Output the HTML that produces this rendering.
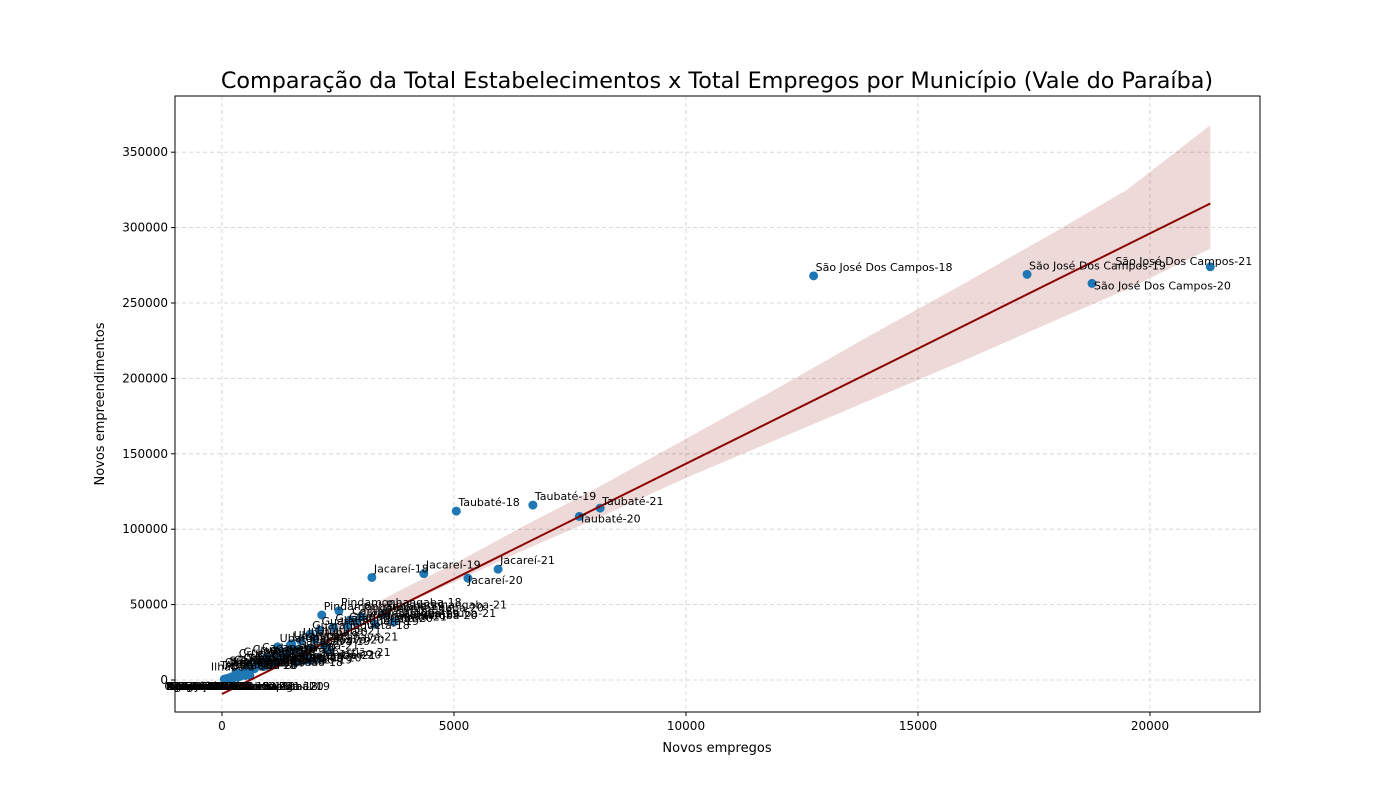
<!DOCTYPE html>
<html><head><meta charset="utf-8"><style>
body{margin:0;background:#fff;}
svg text{font-family:"DejaVu Sans","Liberation Sans",sans-serif;}
</style></head><body>
<svg id="c" width="1400" height="800"></svg>
<script>
const names=["São José Dos Campos-18","São José Dos Campos-19","São José Dos Campos-20","São José Dos Campos-21",
"Taubaté-18","Taubaté-19","Taubaté-20","Taubaté-21","Jacareí-18","Jacareí-19","Jacareí-20","Jacareí-21",
"Pindamonhangaba-18","Pindamonhangaba-19","Pindamonhangaba-20","Pindamonhangaba-21",
"Caraguatatuba-18","Caraguatatuba-19","Caraguatatuba-20","Caraguatatuba-21",
"Guaratinguetá-18","Guaratinguetá-19","Guaratinguetá-20","Guaratinguetá-21",
"Ubatuba-18","Ubatuba-19","Ubatuba-20","Ubatuba-21","Caçapava-18","Caçapava-19","Caçapava-20","Caçapava-21",
"Lorena-18","Lorena-19","Lorena-20","Lorena-21","Cruzeiro-18","Cruzeiro-19","Cruzeiro-20","Cruzeiro-21",
"São Sebastião-18","São Sebastião-19","São Sebastião-20","São Sebastião-21",
"Campos do Jordão-18","Campos do Jordão-19","Campos do Jordão-20","Campos do Jordão-21",
"Tremembé-18","Tremembé-19","Tremembé-20","Tremembé-21","Ilhabela-19","Ilhabela-21",
"Aparecida-18","Aparecida-20","Cachoeira Paulista-19","Cunha-20","Potim-21","Paraibuna-18","Santa Branca-19",
"Roseira-20","Piquete-21","Igaratá-18","Bananal-19","Queluz-20","Lavrinhas-21","Canas-18","Areias-19",
"Silveiras-20","Arapeí-21","Jambeiro-18","Lagoinha-19","Monteiro Lobato-20","Natividade da Serra-21",
"Redenção da Serra-18","Santo Antônio do Pinhal-19","São Bento do Sapucaí-20","São José do Barreiro-21","São Luiz do Paraitinga-18"];
const emp=[12750,17350,18750,21300,5050,6700,7700,8150,3230,4350,5300,5950,
2520,2150,3000,3500,2760,2900,3300,3700,1900,2100,2400,2700,1200,1500,1700,2000,1400,1600,1900,2200,
1470,1300,1800,2300,1000,900,1200,1600,700,1100,1900,2100,600,800,1000,1300,500,700,900,1100,
300,700,400,600,300,200,500,400,350,250,600,200,100,150,300,50,100,200,120,300,250,150,80,90,400,500,200,350];
const est=[268000,269000,263000,274000,112000,116000,108500,114000,68000,70500,67500,73500,
45800,43100,42000,44000,39800,38000,37000,38500,30500,33000,35000,36000,22000,24000,26000,27000,18000,20000,21000,23000,
23000,16000,17500,19000,15000,14000,16500,12000,9000,11000,13000,14500,8000,9500,11000,12500,6000,7500,9000,10500,
5000,8000,4000,6000,3000,2000,4500,3500,2500,1800,3000,1500,800,1200,2200,600,900,1000,700,2000,1500,900,500,400,2500,3000,1200,2000];
const xTicks=[0,5000,10000,15000,20000];
const yTicks=[0,50000,100000,150000,200000,250000,300000,350000];
const fitX=[0,21300];
const fitY=[-9300,316000];
const ciX=[2000,3000,4000,5000,6500,8000,10000,12000,14000,16000,18000,19500,21300];
const ciLo=[22000,37000,51000,65000,86000,106000,134000,160000,186000,212000,239000,259000,286000];
const ciHi=[30000,46000,62000,77000,102000,126000,160000,194000,229000,263000,298000,325000,368000];

const L=175,R=1260,T=96,B=712;
const X=v=>222+v*0.0464;
const Y=v=>680-v*0.001508;
const svg=document.getElementById('c');
const NS="http://www.w3.org/2000/svg";
function mk(t,a,p){const e=document.createElementNS(NS,t);for(const k in a)e.setAttribute(k,a[k]);(p||svg).appendChild(e);return e;}
xTicks.forEach(v=>{const x=X(v);
 const g=mk('line',{x1:x,x2:x,y1:T,y2:B,stroke:'#b0b0b0','stroke-dasharray':'4,3','stroke-width':0.8,opacity:0.6});
 
 mk('line',{x1:x,x2:x,y1:B,y2:B+4,stroke:'#000'});
 const t=mk('text',{x:x,y:B+18,'text-anchor':'middle','font-size':12});t.textContent=v;
 });
yTicks.forEach(v=>{const y=Y(v);
 const g=mk('line',{x1:L,x2:R,y1:y,y2:y,stroke:'#b0b0b0','stroke-dasharray':'4,3','stroke-width':0.8,opacity:0.6});
 
 mk('line',{x1:L-4,x2:L,y1:y,y2:y,stroke:'#000'});
 const t=mk('text',{x:L-7,y:y+4,'text-anchor':'end','font-size':12});t.textContent=v;
 });
let pts=ciX.map((v,i)=>X(v)+','+Y(ciHi[i])).concat(ciX.map((v,i)=>X(v)+','+Y(ciLo[i])).reverse());
const band=mk('polygon',{points:pts.join(' '),fill:'#8b0000','fill-opacity':0.15});

names.forEach((n,i)=>{const c=mk('circle',{cx:X(emp[i]),cy:Y(est[i]),r:4.5,fill:'#1f77b4'});
 });
const fl=mk('line',{x1:X(fitX[0]),y1:Y(fitY[0]),x2:X(fitX[1]),y2:Y(fitY[1]),stroke:'#8b0000','stroke-width':2});

names.forEach((n,i)=>{const px=X(emp[i]),py=Y(est[i]);let lx=px+2,ly=py-5;
 if(est[i]<5000){lx=px-60;ly=690;}
 else if(est[i]<20000){lx=px-25;ly=py-2;}
 if(i==2){ly=py+6;}if(i==3){lx=px-95;ly=py-2;}if(i==6||i==10){ly=py+6;lx=px;}if(i==7){ly=py-3;}
 const t=mk('text',{x:lx,y:ly,'font-size':11});t.textContent=n;
 });
const fr=mk('rect',{x:L,y:T,width:R-L,height:B-T,fill:'none',stroke:'#000','stroke-width':1});

let t=mk('text',{x:717,y:88,'text-anchor':'middle','font-size':22.3});t.textContent="Comparação da Total Estabelecimentos x Total Empregos por Município (Vale do Paraíba)";

t=mk('text',{x:717,y:752,'text-anchor':'middle','font-size':13});t.textContent="Novos empregos";

t=mk('text',{x:104,y:404,'text-anchor':'middle','font-size':13,transform:'rotate(-90 104 404)'});t.textContent="Novos empreendimentos";

</script>
</body></html>
